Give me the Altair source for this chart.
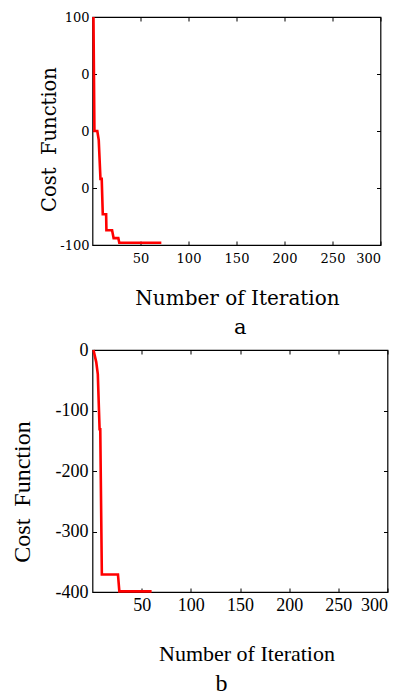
import altair as alt
import pandas as pd

# ---- data ----
# panel a
a_iter = [1, 2, 5, 6.5, 8.3, 9.6, 10.7, 14.2, 14.5, 20.4, 22, 26.9, 27.9, 71.7]
a_cost = [100, 0, 0, -8, -42, -42, -73, -73, -87, -87, -94, -94, -98, -98]
# panel b
b_iter = [1, 3.8, 5.4, 7.2, 7.9, 9.5, 25.9, 27.3, 60.1]
b_cost = [0, -20, -40, -131, -131, -371, -371, -399, -399]

x_ticks = [50, 100, 150, 200, 250, 300]
a_y_ticks = [-100, -50, 0, 50, 100]
b_y_ticks = [-400, -300, -200, -100, 0]

x_title = "Number of Iteration"
y_title = "Cost\u00a0\u00a0Function"

RED = "#ff0000"
TICK = 4


def panel(df, ydom, yticks, width, height, font, lab_size, xtitle_size, ytitle_size,
          ylab_expr, xlab_pad, ylab_pad, ytitle_x, ytitle_y, xtitle_x, xtitle_y,
          caption, cap_font, cap_size, cap_offset, cap_dx):
    xs = alt.Scale(domain=[0, 300], nice=False, zero=False)
    ys = alt.Scale(domain=ydom, nice=False, zero=False)
    common = dict(offset=-TICK, tickSize=TICK, tickColor="black", tickWidth=1,
                  domain=False, grid=False)
    line = alt.Chart(df).mark_line(color=RED, strokeWidth=2.6).encode(
        x=alt.X("iter:Q", scale=xs, axis=alt.Axis(
            values=x_ticks, orient="bottom", labelFont=font, labelFontSize=lab_size,
            labelColor="black", labelPadding=xlab_pad,
            title=x_title, titleFont=font, titleFontSize=xtitle_size,
            titleFontWeight="normal", titleColor="black",
            titleX=xtitle_x, titleY=xtitle_y, titleAlign="center",
            titleBaseline="alphabetic", **common)),
        y=alt.Y("cost:Q", scale=ys, axis=alt.Axis(
            values=yticks, orient="left", labelFont=font, labelFontSize=lab_size,
            labelColor="black", labelPadding=ylab_pad, labelExpr=ylab_expr,
            title=y_title, titleFont=font, titleFontSize=ytitle_size,
            titleFontWeight="normal", titleColor="black", titleAngle=270,
            titleX=ytitle_x, titleY=ytitle_y, titleAlign="center",
            titleBaseline="alphabetic", **common)),
    )
    mirror = alt.Chart(df).mark_line(opacity=0).encode(
        x=alt.X("iter:Q", scale=xs, axis=alt.Axis(
            values=x_ticks, orient="top", labels=False, title="", **common)),
        y=alt.Y("cost:Q", scale=ys, axis=alt.Axis(
            values=yticks, orient="right", labels=False, title="", **common)),
    )
    return alt.layer(line, mirror).resolve_axis(
        x="independent", y="independent"
    ).properties(
        width=width, height=height,
        title=alt.TitleParams(text=caption, orient="bottom", anchor="middle",
                              baseline="alphabetic", font=cap_font,
                              fontSize=cap_size, fontWeight="normal",
                              color="black", offset=cap_offset, dx=cap_dx),
    )


df_a = pd.DataFrame({"iter": a_iter, "cost": a_cost})
df_b = pd.DataFrame({"iter": b_iter, "cost": b_cost})

lab_a = ("abs(datum.value) == 50 ? '0' : "
         "(datum.value < 0 ? '-' + abs(datum.value) : '' + datum.value)")
lab_b = "datum.value < 0 ? '-' + abs(datum.value) : '' + datum.value"

top = panel(df_a, [-100, 100], a_y_ticks, 288, 228, "DejaVu Serif", 13, 20, 19.5,
            lab_a, 7.5, 3.5, -41, 122, 144.5, 63.5,
            "a", "DejaVu Serif", 21, 25, 3.7)
bottom = panel(df_b, [-400, 0], b_y_ticks, 295, 242, "Liberation Serif", 18, 22, 24,
               lab_b, 4.5, 4.5, -66.8, 141.5, 154, 72.5,
               "b", "Liberation Serif", 24, 26, -18.5)

chart = alt.vconcat(top, bottom, spacing=105, bounds="flush").properties(
    padding={"left": 1.5, "top": 2, "right": 0, "bottom": 0},
    background="white",
).configure_view(stroke="black", strokeWidth=1.2)

chart.save("out.html", embed_options={"renderer": "svg", "actions": False})
